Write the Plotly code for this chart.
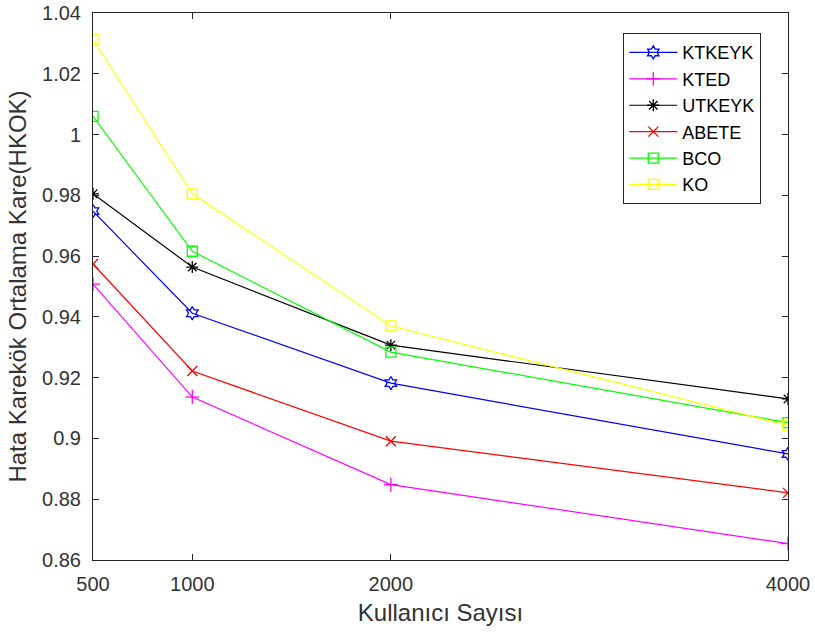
import plotly.graph_objects as go

users = [500, 1000, 2000, 4000]
x_ticks = [500, 1000, 2000, 4000]
y_ticks = [0.86, 0.88, 0.9, 0.92, 0.94, 0.96, 0.98, 1.0, 1.02, 1.04]
y_tick_text = ["0.86", "0.88", "0.9", "0.92", "0.94", "0.96", "0.98", "1", "1.02", "1.04"]

ktkeyk = [0.9748, 0.9412, 0.9182, 0.8949]
kted = [0.9508, 0.9136, 0.8848, 0.8654]
utkeyk = [0.9805, 0.9564, 0.9307, 0.9130]
abete = [0.9574, 0.9222, 0.8991, 0.8821]
bco = [1.0060, 0.9616, 0.9284, 0.9052]
ko = [1.0312, 0.9805, 0.9370, 0.9043]

series = [
    ("KTKEYK", ktkeyk, "#0000ff", "hexagram-open"),
    ("KTED", kted, "#ff00ff", "cross-thin-open"),
    ("UTKEYK", utkeyk, "#000000", "asterisk-open"),
    ("ABETE", abete, "#ff0000", "x-thin-open"),
    ("BCO", bco, "#00ff00", "square-open"),
    ("KO", ko, "#ffff00", "square-open"),
]

fig = go.Figure()
for name, vals, color, symbol in series:
    fig.add_trace(go.Scatter(
        x=users, y=vals, name=name, mode="lines+markers",
        line=dict(color=color, width=1.2),
        marker=dict(symbol=symbol, size=10, color=color,
                    line=dict(color=color, width=1.3)),
    ))

axis_common = dict(
    showline=True, linecolor="#262626", linewidth=1, mirror="ticks",
    ticks="inside", ticklen=6, tickcolor="#262626", showgrid=False,
    zeroline=False, automargin=False,
    tickfont=dict(size=20, color="#333333"),
)

fig.update_layout(
    width=815, height=632,
    margin=dict(l=93, r=27, t=13, b=72),
    paper_bgcolor="white", plot_bgcolor="white",
    font=dict(family="Liberation Sans, Arial, sans-serif", color="#333333"),
    xaxis=dict(range=[500, 4000], tickvals=x_ticks, ticklabelstandoff=6,
               title=dict(text="Kullanıcı Sayısı", font=dict(size=24), standoff=10),
               **axis_common),
    yaxis=dict(range=[0.86, 1.04], tickvals=y_ticks, ticktext=y_tick_text,
               ticklabelstandoff=7,
               title=dict(text="Hata Karekök Ortalama Kare(HKOK)", font=dict(size=24), standoff=8),
               **axis_common),
    legend=dict(
        x=0.763, y=0.963, xanchor="left", yanchor="top",
        bgcolor="white", bordercolor="#262626", borderwidth=1,
        font=dict(size=18, color="#000000"),
        itemwidth=48,
    ),
    showlegend=True,
)

fig.write_html("out.html")
